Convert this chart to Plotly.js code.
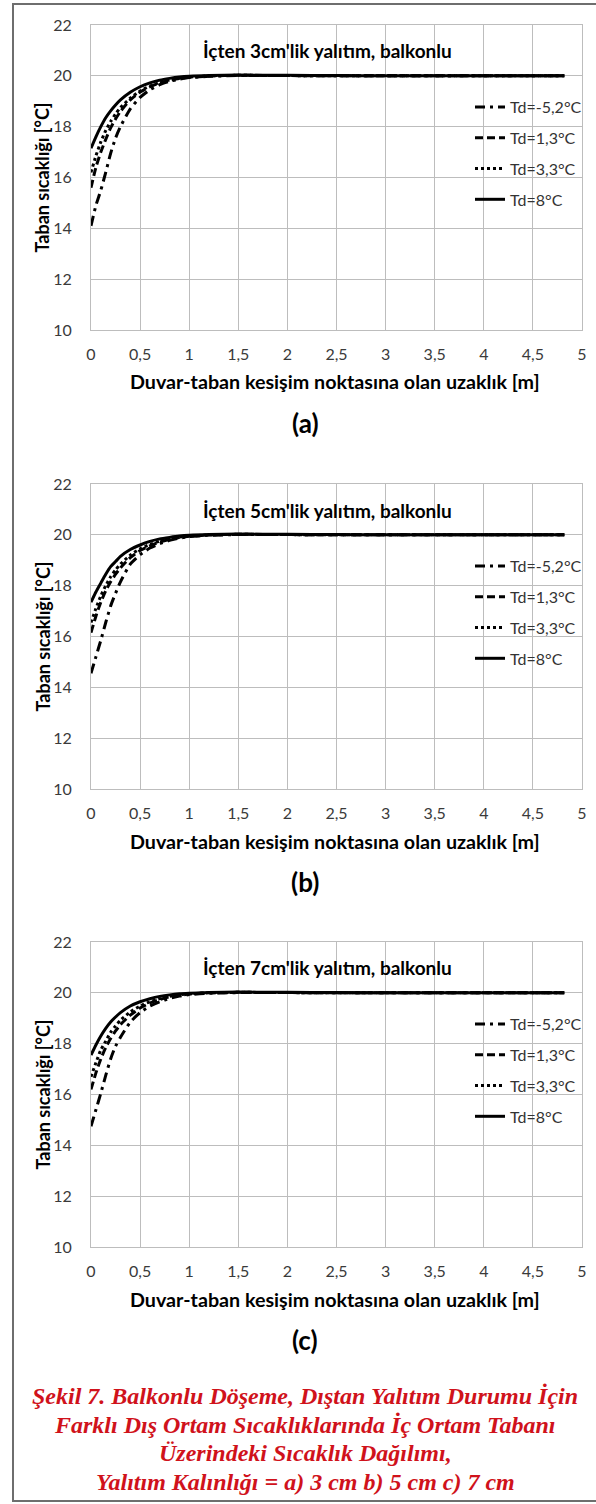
<!DOCTYPE html>
<html>
<head>
<meta charset="utf-8">
<script src="https://cdn.plot.ly/plotly-3.0.1.min.js"></script>
<style>
html,body{margin:0;padding:0;background:#fff;}
#chart{width:596px;height:1504px;}
</style>
</head>
<body>
<div id="chart"></div>
<script>
// ---------- data ----------
const distance = [0, 0.05, 0.1, 0.15, 0.2, 0.25, 0.3, 0.4, 0.5, 0.6, 0.7, 0.8, 0.9, 1.0, 1.2, 1.5, 2.0, 2.5, 3.0, 3.5, 4.0, 4.5, 4.82];
const seriesNames = ['Td=-5,2°C', 'Td=1,3°C', 'Td=3,3°C', 'Td=8°C'];

// (a) 3 cm
const a_m52 = [14.1, 14.9, 15.5, 16.2, 16.95, 17.55, 18.0, 18.7, 19.15, 19.45, 19.65, 19.78, 19.87, 19.93, 19.98, 20.01, 20.01, 20.0, 20.0, 20.0, 20.0, 20.0, 20.0];
const a_13  = [15.6, 16.4, 17.0, 17.5, 17.95, 18.3, 18.6, 19.05, 19.36, 19.57, 19.72, 19.82, 19.89, 19.94, 19.99, 20.02, 20.01, 20.0, 20.0, 20.0, 20.0, 20.0, 20.0];
const a_33  = [16.2, 16.85, 17.4, 17.85, 18.2, 18.5, 18.75, 19.12, 19.4, 19.6, 19.74, 19.84, 19.91, 19.95, 20.0, 20.02, 20.01, 20.0, 20.0, 20.0, 20.0, 20.0, 20.0];
const a_8   = [17.15, 17.6, 18.0, 18.35, 18.62, 18.85, 19.05, 19.35, 19.57, 19.72, 19.83, 19.9, 19.95, 19.98, 20.01, 20.03, 20.02, 20.01, 20.0, 20.0, 20.0, 20.0, 20.0];

// (b) 5 cm
const b_m52 = [14.55, 15.2, 15.85, 16.55, 17.2, 17.7, 18.15, 18.85, 19.22, 19.48, 19.65, 19.78, 19.87, 19.93, 19.98, 20.01, 20.01, 20.0, 20.0, 20.0, 20.0, 20.0, 20.0];
const b_13  = [16.15, 16.8, 17.35, 17.8, 18.15, 18.45, 18.7, 19.1, 19.38, 19.57, 19.72, 19.82, 19.89, 19.94, 19.99, 20.02, 20.01, 20.0, 20.0, 20.0, 20.0, 20.0, 20.0];
const b_33  = [16.55, 17.1, 17.6, 18.0, 18.35, 18.62, 18.85, 19.2, 19.45, 19.62, 19.75, 19.85, 19.91, 19.95, 20.0, 20.02, 20.01, 20.0, 20.0, 20.0, 20.0, 20.0, 20.0];
const b_8   = [17.35, 17.75, 18.1, 18.45, 18.75, 18.95, 19.15, 19.42, 19.6, 19.74, 19.84, 19.9, 19.95, 19.98, 20.01, 20.03, 20.02, 20.01, 20.0, 20.0, 20.0, 20.0, 20.0];

// (c) 7 cm
const c_m52 = [14.75, 15.4, 16.05, 16.75, 17.4, 17.9, 18.25, 18.85, 19.22, 19.48, 19.65, 19.78, 19.87, 19.93, 19.98, 20.01, 20.01, 20.0, 20.0, 20.0, 20.0, 20.0, 20.0];
const c_13  = [16.2, 16.85, 17.4, 17.85, 18.2, 18.5, 18.75, 19.12, 19.4, 19.6, 19.74, 19.84, 19.9, 19.95, 20.0, 20.02, 20.01, 20.0, 20.0, 20.0, 20.0, 20.0, 20.0];
const c_33  = [16.7, 17.25, 17.75, 18.1, 18.45, 18.7, 18.92, 19.25, 19.48, 19.65, 19.77, 19.86, 19.92, 19.96, 20.0, 20.02, 20.01, 20.0, 20.0, 20.0, 20.0, 20.0, 20.0];
const c_8   = [17.55, 17.95, 18.3, 18.6, 18.85, 19.05, 19.22, 19.48, 19.65, 19.77, 19.86, 19.92, 19.96, 19.98, 20.01, 20.03, 20.02, 20.01, 20.0, 20.0, 20.0, 20.0, 20.0];

const xTickVals = [0, 0.5, 1, 1.5, 2, 2.5, 3, 3.5, 4, 4.5, 5];
const xTickText = ['0', '0,5', '1', '1,5', '2', '2,5', '3', '3,5', '4', '4,5', '5'];
const yTickVals = [10, 12, 14, 16, 18, 20, 22];
const yTickText = ['10', '12', '14', '16', '18', '20', '22'];

const panelTitles = ["İçten 3cm'lik yalıtım, balkonlu", "İçten 5cm'lik yalıtım, balkonlu", "İçten 7cm'lik yalıtım, balkonlu"];
const panelLabels = ['(a)', '(b)', '(c)'];
const yTitle = 'Taban sıcaklığı [°C]';
const xTitle = 'Duvar-taban kesişim noktasına olan uzaklık [m]';
const captionLines = [
  'Şekil 7. Balkonlu Döşeme, Dıştan Yalıtım Durumu İçin',
  'Farklı Dış Ortam Sıcaklıklarında İç Ortam Tabanı',
  'Üzerindeki Sıcaklık Dağılımı,',
  'Yalıtım Kalınlığı = a) 3 cm b) 5 cm c) 7 cm'
];

// ---------- styling / layout ----------
const W = 596, H = 1504;
const PX = v => v / W;
const PY = v => 1 - v / H;
const FONT = 'Lato, "Open Sans", sans-serif';
const dashes = ['10px,5px,3px,5px', '8px,4px', 'dot', 'solid'];

const panels = [
  {series: [a_m52, a_13, a_33, a_8], top: 25, bottom: 330},
  {series: [b_m52, b_13, b_33, b_8], top: 484, bottom: 789},
  {series: [c_m52, c_13, c_33, c_8], top: 942, bottom: 1247}
];

const data = [];
const layout = {
  width: W, height: H,
  margin: {l: 0, r: 0, t: 0, b: 0},
  paper_bgcolor: '#fff', plot_bgcolor: '#fff',
  font: {family: FONT, color: '#262626'},
  showlegend: true,
  annotations: [],
  shapes: [{
    type: 'path', xref: 'paper', yref: 'paper',
    path: `M ${PX(600)} ${PY(4)} L ${PX(13)} ${PY(4)} L ${PX(13)} ${PY(1501)} L ${PX(600)} ${PY(1501)}`,
    line: {color: '#6e6e6e', width: 2}
  }]
};

panels.forEach((p, i) => {
  const n = i === 0 ? '' : String(i + 1);
  const xa = 'x' + n, ya = 'y' + n;
  const legName = 'legend' + n;
  p.series.forEach((ys, k) => {
    data.push({
      type: 'scatter', mode: 'lines',
      x: distance, y: ys, xaxis: xa, yaxis: ya,
      name: seriesNames[k], legend: legName, legendgroup: 'g' + i + k,
      line: {color: '#000', width: 3, dash: dashes[k], shape: 'spline', smoothing: 0.6},
      hoverinfo: 'x+y+name'
    });
  });
  const axBase = {
    showgrid: true, gridcolor: '#bdbdbd', gridwidth: 1,
    showline: true, mirror: true, linecolor: '#bdbdbd', linewidth: 1,
    zeroline: false, ticks: '', fixedrange: true,
    tickfont: {family: FONT, size: 16, color: '#3a3a3a'}
  };
  layout['xaxis' + n] = Object.assign({}, axBase, {
    domain: [PX(91), PX(582)], anchor: ya, range: [0, 5],
    tickmode: 'array', tickvals: xTickVals, ticktext: xTickText,
    ticklabelstandoff: 10
  });
  layout['yaxis' + n] = Object.assign({}, axBase, {
    domain: [PY(p.bottom), PY(p.top)], anchor: xa, range: [10, 22],
    tickmode: 'array', tickvals: yTickVals, ticktext: yTickText,
    ticklabelstandoff: 15
  });
  layout[legName] = {
    x: PX(470), xanchor: 'left', y: PY(p.top + 65), yanchor: 'top',
    bgcolor: 'rgba(0,0,0,0)', borderwidth: 0,
    font: {family: FONT, size: 16, color: '#333'},
    tracegroupgap: 7
  };
  const mid = (p.top + p.bottom) / 2;
  layout.annotations.push(
    {text: panelTitles[i], xref: 'paper', yref: 'paper', x: PX(327), y: PY(p.top + 26),
     xanchor: 'center', yanchor: 'middle', showarrow: false,
     font: {family: FONT, size: 19, color: '#000', weight: 'bold'}},
    {text: yTitle, xref: 'paper', yref: 'paper', x: PX(42), y: PY(mid), textangle: -90,
     xanchor: 'center', yanchor: 'middle', showarrow: false,
     font: {family: FONT, size: 18, color: '#000', weight: 'bold'}},
    {text: xTitle, xref: 'paper', yref: 'paper', x: PX(335), y: PY(p.bottom + 52),
     xanchor: 'center', yanchor: 'middle', showarrow: false,
     font: {family: FONT, size: 19.7, color: '#000', weight: 'bold'}},
    {text: panelLabels[i], xref: 'paper', yref: 'paper', x: PX(305), y: PY(p.bottom + 93),
     xanchor: 'center', yanchor: 'middle', showarrow: false,
     font: {family: FONT, size: 26, color: '#000', weight: 'bold'}}
  );
});

const capY = [1396, 1425, 1453, 1482];
captionLines.forEach((t, i) => {
  layout.annotations.push({
    text: t, xref: 'paper', yref: 'paper', x: PX(305), y: PY(capY[i]),
    xanchor: 'center', yanchor: 'middle', showarrow: false,
    font: {family: '"Liberation Serif", "Times New Roman", serif', size: 24, color: '#d0121b', weight: 'bold', style: 'italic'}
  });
});

Plotly.newPlot('chart', data, layout, {displayModeBar: false, staticPlot: true});
</script>
</body>
</html>
